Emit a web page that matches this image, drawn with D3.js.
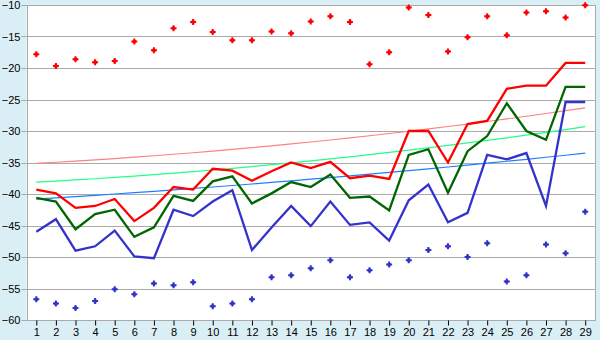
<!DOCTYPE html>
<html><head><meta charset="utf-8">
<script src="https://cdn.jsdelivr.net/npm/d3@7/dist/d3.min.js"></script>
<style>
html,body{margin:0;padding:0;background:#daeef5;}
svg{display:block;}
</style></head>
<body>
<svg id="chart" width="600" height="340"></svg>
<script>
const categories = ["1","2","3","4","5","6","7","8","9","10","11","12","13","14","15","16","17","18","19","20","21","22","23","24","25","26","27","28","29"];
const yTicks = [-60,-55,-50,-45,-40,-35,-30,-25,-20,-15,-10];

const redLine = [-39.3,-39.9,-42.2,-41.9,-40.8,-44.3,-42.2,-38.9,-39.3,-36.0,-36.3,-37.9,-36.4,-35.0,-35.9,-34.9,-37.5,-37.1,-37.6,-30.0,-30.0,-35.0,-28.9,-28.4,-23.3,-22.8,-22.8,-19.2,-19.2];
const greenLine = [-40.6,-41.2,-45.6,-43.2,-42.5,-46.8,-45.3,-40.3,-41.1,-38.0,-37.2,-41.5,-39.9,-38.1,-38.9,-36.9,-40.6,-40.4,-42.6,-33.8,-32.9,-39.8,-33.2,-30.8,-25.6,-30.0,-31.4,-23.0,-23.0];
const blueLine = [-46.0,-44.0,-49.0,-48.3,-45.8,-49.9,-50.2,-42.5,-43.5,-41.2,-39.4,-48.9,-45.3,-41.9,-45.1,-41.2,-44.9,-44.5,-47.4,-41.0,-38.5,-44.5,-43.0,-33.8,-34.5,-33.5,-41.9,-25.4,-25.4];
const redDots = [-17.8,-19.7,-18.6,-19.1,-18.9,-15.8,-17.2,-13.7,-12.7,-14.3,-15.6,-15.6,-14.2,-14.5,-12.6,-11.8,-12.7,-19.4,-17.5,-10.4,-11.6,-17.4,-15.1,-11.8,-14.8,-11.2,-11.0,-12.0,-10.05];
const blueDots = [-56.7,-57.4,-58.1,-57.0,-55.1,-55.9,-54.2,-54.5,-54.0,-57.8,-57.4,-56.7,-53.2,-52.9,-51.8,-50.5,-53.2,-52.1,-51.2,-50.5,-48.9,-48.3,-50.0,-47.8,-53.9,-52.9,-48.0,-49.4,-42.8];
const pinkTrend = [-35.13,-34.96,-34.77,-34.58,-34.37,-34.16,-33.93,-33.69,-33.45,-33.19,-32.92,-32.64,-32.35,-32.05,-31.75,-31.43,-31.10,-30.75,-30.40,-30.04,-29.67,-29.29,-28.90,-28.49,-28.08,-27.66,-27.22,-26.78,-26.32];
const greenTrend = [-38.13,-37.96,-37.77,-37.58,-37.37,-37.16,-36.93,-36.69,-36.45,-36.19,-35.92,-35.64,-35.35,-35.05,-34.75,-34.43,-34.10,-33.75,-33.40,-33.04,-32.67,-32.29,-31.90,-31.49,-31.08,-30.66,-30.22,-29.78,-29.32];
const blueTrend = [-40.80,-40.61,-40.41,-40.21,-40.00,-39.79,-39.57,-39.35,-39.12,-38.89,-38.65,-38.41,-38.16,-37.91,-37.65,-37.39,-37.12,-36.85,-36.57,-36.29,-36.00,-35.71,-35.41,-35.11,-34.80,-34.49,-34.17,-33.85,-33.52];

const svg = d3.select("#chart");
const L = 26.5, R = 595, T = 5, B = 320;
const x = d3.scalePoint().domain(categories).range([L, R]).padding(0.5);
const y = d3.scaleLinear().domain([-60, -10]).range([B, T]);

svg.append("rect").attr("x", L).attr("y", T).attr("width", R - L).attr("height", B - T).attr("fill", "#ffffff");

// gridlines
svg.append("g").selectAll("line").data(yTicks).join("line")
  .attr("x1", L - 5).attr("x2", R)
  .attr("y1", d => Math.round(y(d)) + 0.5).attr("y2", d => Math.round(y(d)) + 0.5)
  .attr("stroke", "#aaaaaa").attr("stroke-width", 1);

// border
svg.append("line").attr("x1", Math.round(L) + 0.5).attr("x2", Math.round(L) + 0.5).attr("y1", T).attr("y2", B + 1).attr("stroke", "#aaaaaa");
svg.append("line").attr("x1", R + 0.5).attr("x2", R + 0.5).attr("y1", T).attr("y2", B + 1).attr("stroke", "#aaaaaa");

// y axis labels
const yAxis = d3.axisLeft(y).tickValues(yTicks).tickSize(0).tickPadding(5);
const gy = svg.append("g").attr("transform", `translate(${L - 1},0)`).call(yAxis);
gy.select(".domain").remove();
gy.selectAll("text").attr("font-family", "Liberation Sans, Arial, sans-serif").attr("font-size", 11).attr("fill", "#000");

// x axis
const xAxis = d3.axisBottom(x).tickSize(5).tickPadding(3);
const gx = svg.append("g").attr("transform", `translate(0,${B + 0.5})`).call(xAxis);
gx.select(".domain").attr("stroke", "#aaaaaa").attr("d", `M${L},0H${R + 1}`);
gx.selectAll(".tick line").attr("stroke", "#000");
gx.selectAll("text").attr("font-family", "Liberation Sans, Arial, sans-serif").attr("font-size", 11).attr("fill", "#000");

const line = d3.line().x((d, i) => x(categories[i])).y(d => y(d));

// trend lines
[[pinkTrend, "#ff8080"], [greenTrend, "#22ff88"], [blueTrend, "#1a80ff"]].forEach(([data, c]) => {
  svg.append("path").attr("d", line(data)).attr("fill", "none").attr("stroke", c).attr("stroke-width", 1.2);
});

// main lines
[[redLine, "#ff0000"], [greenLine, "#006600"], [blueLine, "#3333cc"]].forEach(([data, c]) => {
  svg.append("path").attr("d", line(data)).attr("fill", "none").attr("stroke", c).attr("stroke-width", 2.3).attr("stroke-linejoin", "miter");
});

// markers: chunky plus
const cross = d3.symbol().type(d3.symbolCross).size(20);
const sq = d3.symbol().type(d3.symbolSquare).size(10);
[[redDots, "#ff0000"], [blueDots, "#3333cc"]].forEach(([data, c]) => {
  const g = svg.append("g").selectAll("g").data(data).join("g")
    .attr("transform", (d, i) => `translate(${x(categories[i])},${y(d)})`)
    .attr("fill", c);
  g.append("path").attr("d", cross);
  g.append("path").attr("d", sq);
});
</script>
</body></html>
